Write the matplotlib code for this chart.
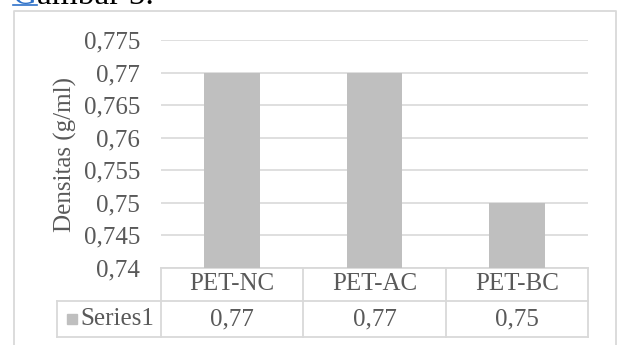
import matplotlib
matplotlib.use("Agg")
import matplotlib.pyplot as plt
from matplotlib.lines import Line2D
import numpy as np

categories = ["PET-NC", "PET-AC", "PET-BC"]
densities = [0.77, 0.77, 0.75]
series_name = "Series1"
y_label = "Densitas (g/ml)"
caption = "Gambar 5."

BAR = "#BFBFBF"
LINE = "#D9D9D9"
TEXT = "#595959"
LINK = "#2F72C9"
FS = 18

plt.rcParams["font.family"] = ["Liberation Serif", "DejaVu Serif"]

W, H = 617, 345
fig = plt.figure(figsize=(W / 100, H / 100), dpi=100)

# plot area in pixel terms
left, right, top, bottom = 161, 588, 40, 268
ax = fig.add_axes([left / W, 1 - bottom / H, (right - left) / W, (bottom - top) / H])

x = np.arange(len(categories))
ax.bar(x, densities, width=0.39, color=BAR, zorder=3)
ax.set_xlim(-0.5, len(categories) - 0.5)
ax.set_ylim(0.74, 0.775)

yticks = np.linspace(0.74, 0.775, 8)
ax.set_yticks(yticks)
ax.set_yticklabels([f"{v:.3f}".rstrip("0").replace(".", ",") for v in yticks],
                   fontsize=FS, color=TEXT)
ax.tick_params(axis="y", length=0, pad=15)
ax.set_xticks([])
ax.yaxis.grid(True, color=LINE, linewidth=1.2, zorder=0)
for s in ax.spines.values():
    s.set_visible(False)

ax.text((65 - left) / (right - left), 0.5, y_label, rotation=90, ha="center",
        va="center", fontsize=FS, color=TEXT, transform=ax.transAxes)

# data table under the axis
tr = ax.get_xaxis_transform()
px = (right - left) / len(categories)
row1 = -33 / (bottom - top)
row2 = -69 / (bottom - top)
x_lab = -0.5 - (162 - 58) / px
kw = dict(color=LINE, linewidth=1.3, transform=tr, clip_on=False)

ax.add_line(Line2D([-0.5, 2.5], [0, 0], **kw))
ax.add_line(Line2D([x_lab, 2.5], [row1, row1], **kw))
ax.add_line(Line2D([x_lab, 2.5], [row2, row2], **kw))
ax.add_line(Line2D([x_lab, x_lab], [row1, row2], **kw))
for xv in np.arange(len(categories) + 1) - 0.5:
    ax.add_line(Line2D([xv, xv], [0, row2], **kw))

for xi, cat, val in zip(x, categories, densities):
    ax.text(xi, row1 / 2, cat, ha="center", va="center", fontsize=FS,
            color=TEXT, transform=tr)
    ax.text(xi, (row1 + row2) / 2, f"{val:.2f}".replace(".", ","), ha="center",
            va="center", fontsize=FS, color=TEXT, transform=tr)

ax.plot([-0.5 - (162 - 73) / px], [(row1 + row2) / 2], marker="s", markersize=7.3,
        color=BAR, transform=tr, clip_on=False)
ax.text(-0.5 - (162 - 81) / px, (row1 + row2) / 2, series_name, ha="left",
        va="center", fontsize=FS, color=TEXT, transform=tr)

# outer chart border (open at the bottom)
fx = lambda p: p / W
fy = lambda p: 1 - p / H
fig.add_artist(Line2D([fx(13.5), fx(13.5), fx(615.5), fx(615.5)],
                      [fy(H + 5), fy(10.5), fy(10.5), fy(H + 5)],
                      color=LINE, linewidth=1.3, transform=fig.transFigure))

# caption above the chart: linked first letter, then the rest
g = fig.text(fx(13), fy(3.5), caption[0], fontsize=24, color=LINK,
             va="baseline", ha="left")
renderer = fig.canvas.get_renderer()
g_box = g.get_window_extent(renderer)
fig.text(g_box.x1 / W, fy(3.5), caption[1:], fontsize=24, color="black",
         va="baseline", ha="left")
fig.add_artist(Line2D([fx(13), g_box.x1 / W], [fy(5), fy(5)], color=LINK,
                      linewidth=1.2, transform=fig.transFigure))

fig.savefig("out.png", dpi=100)
